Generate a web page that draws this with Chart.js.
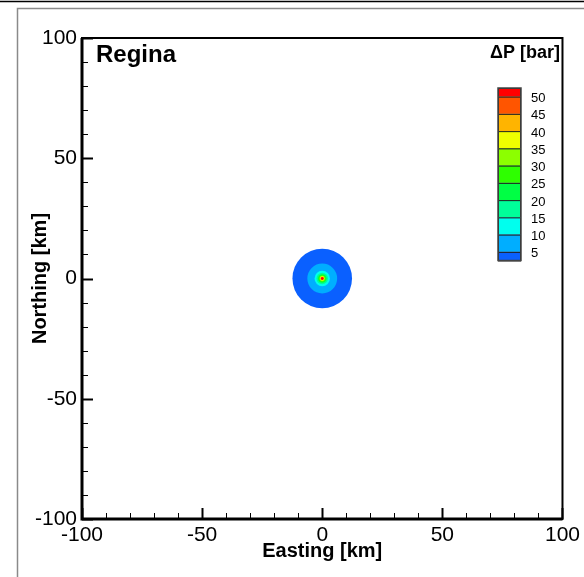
<!DOCTYPE html>
<html>
<head>
<meta charset="utf-8">
<script src="https://cdn.jsdelivr.net/npm/chart.js@4/dist/chart.umd.min.js"></script>
<style>
  html, body { margin: 0; padding: 0; background: #fff; }
  #wrap { width: 584px; height: 577px; position: relative; }
</style>
</head>
<body>
<div id="wrap"><canvas id="c" width="584" height="577"></canvas></div>
<script>
// ---- data ----
const chartTitle = 'Regina';
const legendTitle = '\u0394P [bar]';
const xTitle = 'Easting [km]';
const yTitle = 'Northing [km]';
const xTickLabels = [-100, -50, 0, 50, 100];
const yTickLabels = [-100, -50, 0, 50, 100];
// pressure-change bands (lower bound, bar), from lowest to highest
const bandLevels = [0, 5, 10, 15, 20, 25, 30, 35, 40, 45, 50];
const bandColors = ['#0a60ff', '#00aeff', '#00ffee', '#00ff99', '#00ff44', '#2eff00', '#8cff00', '#eeff00', '#ffb400', '#ff5500', '#ff0000'];
// outer radius (km) of area exceeding each band's lower bound, around the well
const bandRadiusKm = [12.4, 6.2, 3.2, 2.4, 1.8, 1.4, 1.1, 0.9, 0.7, 0.6, 0.5];
const wellX = [0];
const wellY = [0];
const legendLabels = [50, 45, 40, 35, 30, 25, 20, 15, 10, 5];

// ---- datasets: one filled disc per band, radius converted through the x scale ----
const datasets = bandLevels.map((lvl, i) => ({
  label: String(lvl),
  data: [{ x: wellX[0], y: wellY[0] }],
  backgroundColor: bandColors[i],
  borderWidth: 0,
  order: bandLevels.length - i,
  pointRadius: (ctx) => {
    const sx = ctx.chart.scales.x;
    if (!sx) return 0;
    return Math.abs(sx.getPixelForValue(bandRadiusKm[i]) - sx.getPixelForValue(0));
  },
  pointHoverRadius: (ctx) => {
    const sx = ctx.chart.scales.x;
    if (!sx) return 0;
    return Math.abs(sx.getPixelForValue(bandRadiusKm[i]) - sx.getPixelForValue(0));
  }
}));

const FONT = 'Liberation Sans, Arial, sans-serif';

const decor = {
  id: 'decor',
  beforeDraw(chart) {
    const ctx = chart.ctx;
    ctx.save();
    // outer page frame
    ctx.strokeStyle = '#000';
    ctx.lineWidth = 1.5;
    ctx.beginPath(); ctx.moveTo(0, 1.5); ctx.lineTo(584, 1.5); ctx.stroke();
    ctx.strokeStyle = '#8a8a8a';
    ctx.lineWidth = 1.5;
    ctx.beginPath(); ctx.moveTo(17.5, 600); ctx.lineTo(17.5, 8.5); ctx.lineTo(600, 8.5); ctx.stroke();
    ctx.restore();
  },
  afterDraw(chart) {
    const ctx = chart.ctx;
    const a = chart.chartArea;
    const sx = chart.scales.x, sy = chart.scales.y;
    ctx.save();
    // plot frame
    ctx.strokeStyle = '#000';
    ctx.lineWidth = 2;
    ctx.strokeRect(a.left, a.top, a.right - a.left, a.bottom - a.top);
    ctx.lineWidth = 3;
    ctx.beginPath(); ctx.moveTo(a.left, a.top); ctx.lineTo(a.left, a.bottom); ctx.lineTo(a.right, a.bottom); ctx.stroke();
    // inward ticks
    sx.ticks.forEach(t => {
      const major = xTickLabels.includes(t.value);
      const px = Math.round(sx.getPixelForValue(t.value)) + 0.5;
      ctx.lineWidth = major ? 2 : 1;
      ctx.beginPath(); ctx.moveTo(px, a.bottom); ctx.lineTo(px, a.bottom - (major ? 11 : 6)); ctx.stroke();
    });
    sy.ticks.forEach(t => {
      const major = yTickLabels.includes(t.value);
      const py = Math.round(sy.getPixelForValue(t.value)) + 0.5;
      ctx.lineWidth = major ? 2 : 1;
      ctx.beginPath(); ctx.moveTo(a.left, py); ctx.lineTo(a.left + (major ? 11 : 6), py); ctx.stroke();
    });
    // title
    ctx.fillStyle = '#000';
    ctx.font = 'bold 24px ' + FONT;
    ctx.textAlign = 'left';
    ctx.textBaseline = 'alphabetic';
    ctx.fillText(chartTitle, 96, 62);
    // legend title
    ctx.font = 'bold 18px ' + FONT;
    ctx.textAlign = 'right';
    ctx.fillText(legendTitle, 560, 58);
    // colour bar
    const bx = 498, bw = 23, top = 88, step = 17.25;
    const n = bandLevels.length;
    // boxes from top (highest) to bottom
    let y = top;
    for (let k = n - 1; k >= 0; k--) {
      const h = (k === n - 1 || k === 0) ? step / 2 : step;
      ctx.fillStyle = bandColors[k];
      ctx.fillRect(bx, y, bw, h);
      ctx.strokeStyle = '#222';
      ctx.lineWidth = 1;
      ctx.strokeRect(bx + 0.5, y + 0.5, bw - 1, h);
      y += h;
    }
    ctx.strokeStyle = '#444';
    ctx.lineWidth = 1.5;
    ctx.strokeRect(bx, top, bw, y - top);
    ctx.fillStyle = '#000';
    ctx.font = '13px ' + FONT;
    ctx.textAlign = 'left';
    ctx.textBaseline = 'middle';
    legendLabels.forEach((v, i) => {
      ctx.fillText(String(v), 531, top + step / 2 + i * step + 2);
    });
    ctx.restore();
  }
};

new Chart(document.getElementById('c'), {
  type: 'scatter',
  data: { datasets },
  options: {
    responsive: false,
    animation: false,
    events: [],
    layout: { padding: { top: 38, right: 19, left: 0, bottom: 0 } },
    plugins: { legend: { display: false }, tooltip: { enabled: false } },
    scales: {
      x: {
        type: 'linear', min: -100, max: 100,
        afterFit: (s) => { s.height = 58; },
        grid: { display: false, drawTicks: false },
        border: { display: false },
        ticks: {
          stepSize: 10, autoSkip: false, maxRotation: 0, padding: 4,
          color: '#000', font: { family: FONT, size: 21 },
          callback: (v) => xTickLabels.includes(v) ? String(v) : ''
        },
        title: { display: true, text: xTitle, color: '#000', font: { family: FONT, size: 20, weight: 'bold' }, padding: { top: 0, bottom: 14 } }
      },
      y: {
        type: 'linear', min: -100, max: 100,
        afterFit: (s) => { s.width = 82; },
        grid: { display: false, drawTicks: false },
        border: { display: false },
        ticks: {
          stepSize: 10, autoSkip: false, padding: 5,
          color: '#000', font: { family: FONT, size: 21 },
          callback: (v) => yTickLabels.includes(v) ? String(v) : ''
        },
        title: { display: true, text: yTitle, color: '#000', font: { family: FONT, size: 20, weight: 'bold' }, padding: { top: 28, bottom: 0 } }
      }
    }
  },
  plugins: [decor]
});
</script>
</body>
</html>
